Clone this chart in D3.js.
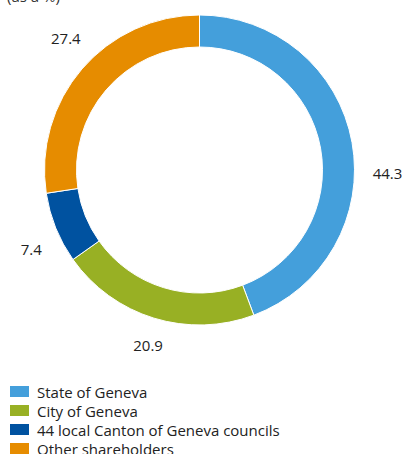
<!DOCTYPE html>
<html>
<head>
<meta charset="utf-8">
<script src="https://cdn.jsdelivr.net/npm/d3@7"></script>
<style>
  html, body { margin: 0; padding: 0; background: #fff; }
  svg { display: block; font-family: "Open Sans", "Noto Sans", sans-serif; }
</style>
</head>
<body>
<div id="chart"><svg></svg></div>
<script>
const width = 406;
const height = 454;

// data
const shareholders = ['State of Geneva', 'City of Geneva', '44 local Canton of Geneva councils', 'Other shareholders'];
const shares = [44.3, 20.9, 7.4, 27.4];
const colours = ['#449fdb', '#98b024', '#0052a0', '#e68c00'];
const unitLabel = '(as a %)';

const svg = d3.select('#chart').select('svg')
    .attr('width', width)
    .attr('height', height)
    .attr('viewBox', `0 0 ${width} ${height}`);

// unit text, cut at the top like the original
svg.append('text')
    .attr('x', 7)
    .attr('y', 2)
    .attr('font-size', 15)
    .attr('fill', '#333')
    .text(unitLabel);

const cx = 199.5, cy = 170;
const outerR = 155, innerR = 123;

const pie = d3.pie().sort(null).value(d => d);
const arcs = pie(shares);

const arc = d3.arc().innerRadius(innerR).outerRadius(outerR);

const g = svg.append('g').attr('transform', `translate(${cx},${cy})`);

g.selectAll('path.slice')
    .data(arcs)
    .join('path')
    .attr('class', 'slice')
    .attr('d', arc)
    .attr('fill', (d, i) => colours[i])
    .attr('stroke', '#fff')
    .attr('stroke-width', 1);

// value labels - outside the ring, nudged a bit from the mid angle
const labelR = [188, 182, 186, 188];
const nudge = [0.196, -0.012, -0.056, 0.07];
const mid = (d, i) => (d.startAngle + d.endAngle) / 2 + nudge[i];
g.selectAll('text.val')
    .data(arcs)
    .join('text')
    .attr('class', 'val')
    .attr('text-anchor', 'middle')
    .attr('dominant-baseline', 'central')
    .attr('font-size', 15)
    .attr('fill', '#222')
    .attr('x', (d, i) => Math.sin(mid(d, i)) * labelR[i])
    .attr('y', (d, i) => -Math.cos(mid(d, i)) * labelR[i])
    .text(d => d3.format('.1f')(d.data));

// legend
const legendY = d3.scaleBand()
    .domain(shareholders)
    .range([384, 460])
    .padding(0);

const legend = svg.append('g');
legend.selectAll('rect')
    .data(shareholders)
    .join('rect')
    .attr('x', 10)
    .attr('y', d => legendY(d) + 2)
    .attr('width', 19)
    .attr('height', 11)
    .attr('fill', (d, i) => colours[i]);

legend.selectAll('text')
    .data(shareholders)
    .join('text')
    .attr('x', 37)
    .attr('y', d => legendY(d) + 7.5)
    .attr('dominant-baseline', 'central')
    .attr('font-size', 15)
    .attr('fill', '#222')
    .text(d => d);
</script>
</body>
</html>
